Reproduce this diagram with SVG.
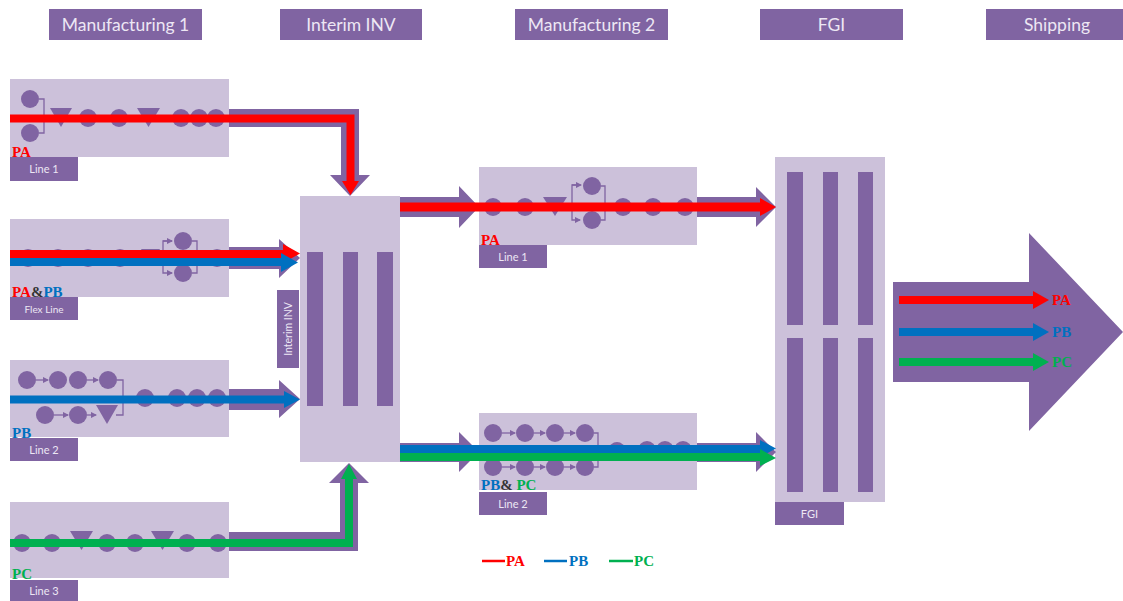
<svg xmlns="http://www.w3.org/2000/svg" width="1123" height="601" viewBox="0 0 1123 601">
<style>
.hdr{fill:#8064A2}
.hdrt{font-family:Lato,"Liberation Sans",sans-serif;font-size:17.5px;fill:#EDE7F4;text-anchor:middle}
.box{fill:#CCC1DA}
.dk{fill:#8064A2}
.lbl{font-family:Lato,"Liberation Sans",sans-serif;font-size:11px;fill:#EDE7F4;text-anchor:middle}
.p{font-family:"Liberation Serif",serif;font-weight:bold;font-size:15px}
.br{fill:none;stroke:#8064A2;stroke-width:1.3}
.r{fill:#FF0000}.b{fill:#0070C0}.g{fill:#00B050}
.rs{fill:none;stroke:#FF0000;stroke-width:8}
.bs{fill:none;stroke:#0070C0;stroke-width:8}
.gs{fill:none;stroke:#00B050;stroke-width:8}
</style>
<defs>
<marker id="sm" viewBox="0 0 6 6" refX="5" refY="3" markerWidth="5" markerHeight="5" orient="auto"><path d="M0 0L6 3L0 6Z" fill="#8064A2"/></marker>
</defs>
<rect width="1123" height="601" fill="#fff"/>

<g id="headers">
<rect class="hdr" x="49" y="9" width="153" height="31"/><text class="hdrt" x="125.5" y="30.5">Manufacturing 1</text>
<rect class="hdr" x="280" y="9" width="142" height="31"/><text class="hdrt" x="351" y="30.5">Interim INV</text>
<rect class="hdr" x="515" y="9" width="153" height="31"/><text class="hdrt" x="591.5" y="30.5">Manufacturing 2</text>
<rect class="hdr" x="760" y="9" width="143" height="31"/><text class="hdrt" x="831.5" y="30.5">FGI</text>
<rect class="hdr" x="986" y="9" width="137" height="31"/><text class="hdrt" x="1057" y="30.5">Shipping</text>
</g>

<g id="m1-line1">
<rect class="box" x="10" y="79" width="219" height="78"/>
<rect class="dk" x="10" y="157" width="68" height="24"/><text class="lbl" x="44" y="173">Line 1</text>
<circle class="dk" cx="30" cy="99" r="9"/><circle class="dk" cx="30" cy="133" r="9"/>
<path class="br" d="M39 99H44V133H39M44 118H49"/>
<path class="dk" d="M50 108H72L61 127Z"/>
<circle class="dk" cx="88" cy="118" r="9"/><circle class="dk" cx="119" cy="118" r="9"/>
<path class="dk" d="M137 108H160L148.5 127Z"/>
<circle class="dk" cx="181" cy="118" r="9"/><circle class="dk" cx="199" cy="118" r="9"/><circle class="dk" cx="216" cy="118" r="9"/>
<text class="p r" x="12" y="157">PA</text>
</g>

<g id="m1-flex">
<rect class="box" x="10" y="219" width="219" height="78"/>
<rect class="dk" x="10" y="297" width="68" height="23"/><text class="lbl" x="44" y="312.5" style="font-size:10px">Flex Line</text>
<circle class="dk" cx="28" cy="258" r="9"/><circle class="dk" cx="58" cy="258" r="9"/><circle class="dk" cx="88" cy="258" r="9"/><circle class="dk" cx="120" cy="258" r="9"/>
<path class="dk" d="M141 249H160L150.5 266Z"/>
<circle class="dk" cx="183" cy="241" r="9"/><circle class="dk" cx="183" cy="273" r="9"/>
<path class="br" d="M163 258V241H172M163 258V273H172" marker-end="url(#sm)"/>
<path class="br" d="M163 241H172" marker-end="url(#sm)"/>
<path class="br" d="M192 241H197V273H192M197 258H208"/>
<circle class="dk" cx="217" cy="258" r="9"/>
<text class="p" x="12" y="297"><tspan fill="#FF0000">PA</tspan><tspan fill="#333">&amp;</tspan><tspan fill="#0070C0">PB</tspan></text>
</g>

<g id="m1-line2">
<rect class="box" x="10" y="360" width="219" height="77"/>
<rect class="dk" x="10" y="438" width="68" height="23"/><text class="lbl" x="44" y="453.5">Line 2</text>
<circle class="dk" cx="27" cy="380" r="9"/><circle class="dk" cx="58" cy="380" r="9"/><circle class="dk" cx="78" cy="380" r="9"/><circle class="dk" cx="108" cy="380" r="9"/>
<path class="br" d="M36 380H48" marker-end="url(#sm)"/><path class="br" d="M87 380H98" marker-end="url(#sm)"/>
<circle class="dk" cx="45" cy="415" r="9"/><circle class="dk" cx="78" cy="415" r="9"/>
<path class="br" d="M54 415H68" marker-end="url(#sm)"/><path class="br" d="M87 415H96" marker-end="url(#sm)"/>
<path class="dk" d="M96 405H118L107 424Z"/>
<path class="br" d="M117 380H123V415H116M123 398H136"/>
<circle class="dk" cx="145" cy="398" r="9"/><circle class="dk" cx="177" cy="398" r="9"/><circle class="dk" cx="197" cy="398" r="9"/><circle class="dk" cx="217" cy="398" r="9"/>
<text class="p b" x="12" y="438">PB</text>
</g>

<g id="m1-line3">
<rect class="box" x="10" y="502" width="219" height="76"/>
<rect class="dk" x="10" y="580" width="68" height="21"/><text class="lbl" x="44" y="595">Line 3</text>
<circle class="dk" cx="22" cy="543" r="9"/><circle class="dk" cx="52" cy="543" r="9"/>
<path class="dk" d="M70 531H93L81.5 550Z"/>
<circle class="dk" cx="107" cy="543" r="9"/><circle class="dk" cx="135" cy="543" r="9"/>
<path class="dk" d="M151 531H174L162.5 550Z"/>
<circle class="dk" cx="187" cy="543" r="9"/><circle class="dk" cx="218" cy="543" r="9"/>
<text class="p g" x="12" y="579">PC</text>
</g>

<g id="interim">
<rect class="box" x="300" y="196" width="100" height="266"/>
<rect class="dk" x="307" y="252" width="16" height="154"/><rect class="dk" x="343" y="252" width="15" height="154"/><rect class="dk" x="377" y="252" width="16" height="154"/>
<rect class="dk" x="277" y="290" width="22" height="78"/>
<text class="lbl" transform="translate(292 329) rotate(-90)" style="font-size:10.5px">Interim INV</text>
</g>

<g id="m2-line1">
<rect class="box" x="479" y="167" width="218" height="78"/>
<rect class="dk" x="479" y="245" width="68" height="23"/><text class="lbl" x="513" y="260.5">Line 1</text>
<circle class="dk" cx="493" cy="207" r="9"/><circle class="dk" cx="525" cy="207" r="9"/>
<path class="dk" d="M543 197H567L555 216Z"/>
<path class="br" d="M572 207V185H580M572 207V220H580" marker-end="url(#sm)"/>
<path class="br" d="M572 185H581" marker-end="url(#sm)"/>
<circle class="dk" cx="592" cy="186" r="9"/><circle class="dk" cx="592" cy="220" r="9"/>
<path class="br" d="M601 186H605V220H601M605 207H614"/>
<circle class="dk" cx="623" cy="207" r="9"/><circle class="dk" cx="653" cy="207" r="9"/><circle class="dk" cx="685" cy="207" r="9"/>
<text class="p r" x="481" y="245">PA</text>
</g>

<g id="m2-line2">
<rect class="box" x="479" y="413" width="218" height="77"/>
<rect class="dk" x="479" y="492" width="68" height="23"/><text class="lbl" x="513" y="507.5">Line 2</text>
<circle class="dk" cx="493" cy="433" r="9"/><circle class="dk" cx="525" cy="433" r="9"/><circle class="dk" cx="555" cy="433" r="9"/><circle class="dk" cx="585" cy="433" r="9"/>
<circle class="dk" cx="493" cy="467" r="9"/><circle class="dk" cx="525" cy="467" r="9"/><circle class="dk" cx="555" cy="467" r="9"/><circle class="dk" cx="585" cy="467" r="9"/>
<path class="br" d="M502 433H515" marker-end="url(#sm)"/><path class="br" d="M534 433H545" marker-end="url(#sm)"/><path class="br" d="M564 433H575" marker-end="url(#sm)"/>
<path class="br" d="M502 467H515" marker-end="url(#sm)"/><path class="br" d="M534 467H545" marker-end="url(#sm)"/><path class="br" d="M564 467H575" marker-end="url(#sm)"/>
<path class="br" d="M594 433H598V467H594M598 450H608"/>
<circle class="dk" cx="617" cy="450" r="8"/><circle class="dk" cx="647" cy="450" r="9"/><circle class="dk" cx="665" cy="450" r="9"/><circle class="dk" cx="683" cy="450" r="9"/>
<text class="p" x="481" y="490"><tspan fill="#0070C0">PB</tspan><tspan fill="#333">&amp; </tspan><tspan fill="#00B050">PC</tspan></text>
</g>

<g id="fgi">
<rect class="box" x="775" y="157" width="110" height="345"/>
<rect class="dk" x="787" y="172" width="16" height="153"/><rect class="dk" x="823" y="172" width="15" height="153"/><rect class="dk" x="858" y="172" width="15" height="153"/>
<rect class="dk" x="787" y="338" width="16" height="154"/><rect class="dk" x="823" y="338" width="15" height="154"/><rect class="dk" x="858" y="338" width="15" height="154"/>
<rect class="dk" x="775" y="502" width="69" height="23"/><text class="lbl" x="809.5" y="517.5">FGI</text>
</g>

<g id="shipping">
<path class="dk" d="M893 282H1029V233L1123 332L1029 431V382H893Z"/>
<rect class="r" x="899" y="296" width="136" height="8"/><path class="r" d="M1033 291L1049 300L1033 309Z"/>
<rect class="b" x="899" y="328" width="136" height="8"/><path class="b" d="M1033 323L1049 332L1033 341Z"/>
<rect class="g" x="899" y="358" width="136" height="8"/><path class="g" d="M1033 353L1049 362L1033 371Z"/>
<text class="p r" x="1052" y="305">PA</text>
<text class="p b" x="1052" y="337">PB</text>
<text class="p g" x="1052" y="367">PC</text>
</g>

<g id="connectors">
<path class="dk" d="M229 109H359V175H370L350 196L330 175H341V127H229Z"/>
<path class="rs" d="M10 118.5H350.5V182"/><path class="r" d="M342 181H359L350.5 195Z"/>

<path class="dk" d="M229 247H279V239L300 258L279 278V269H229Z"/>
<path class="rs" d="M10 254H286"/><path class="r" d="M283 244L300 253.5L283 263Z"/>
<path class="bs" d="M10 262H284"/><path class="b" d="M281 253L298 262.5L281 272Z"/>

<path class="dk" d="M229 389H279V380L300 399L279 418V410H229Z"/>
<path class="bs" d="M10 399.5H286"/><path class="b" d="M284 391L300 399.5L284 408Z"/>

<path class="dk" d="M229 532H340V483H329L349 463L369 483H358V551H229Z"/>
<path class="gs" d="M10 543H349V478"/><path class="g" d="M341 479H357L349 464Z"/>

<path class="dk" d="M400 197H459V186L479 207L459 228V217H400Z"/>
<path class="dk" d="M697 197H756V187L776 207L756 227V217H697Z"/>
<path class="rs" d="M400 207H762" style="stroke-width:9"/><path class="r" d="M760 198L776 207L760 216Z"/>

<path class="dk" d="M400 443H459V432L479 452L459 472V462H400Z"/>
<path class="dk" d="M697 443H756V432L776 452L756 472V462H697Z"/>
<path class="bs" d="M400 449H762"/><path class="b" d="M760 440L776 448.5L760 457Z"/>
<path class="gs" d="M400 457H762"/><path class="g" d="M760 449L776 458L760 466Z"/>
</g>

<g id="legend">
<path d="M482 561H505" stroke="#FF0000" stroke-width="2.5"/><text class="p r" x="506" y="566">PA</text>
<path d="M544 561H567" stroke="#0070C0" stroke-width="2.5"/><text class="p b" x="569" y="566">PB</text>
<path d="M609 561H633" stroke="#00B050" stroke-width="2.5"/><text class="p g" x="634" y="566">PC</text>
</g>
</svg>
